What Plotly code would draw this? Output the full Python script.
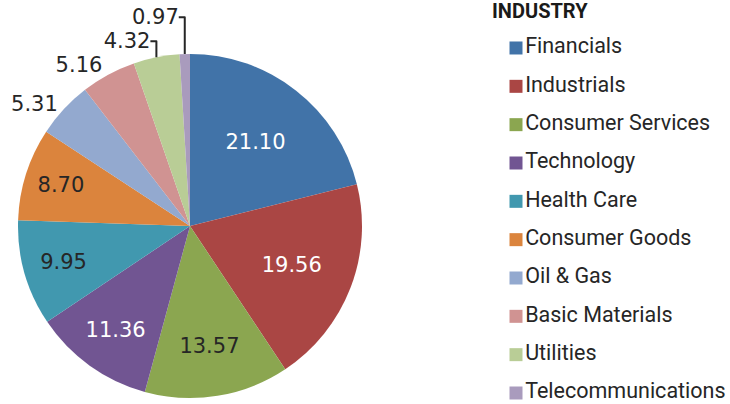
import plotly.graph_objects as go

industries = ["Financials", "Industrials", "Consumer Services", "Technology", "Health Care",
              "Consumer Goods", "Oil & Gas", "Basic Materials", "Utilities", "Telecommunications"]
weights = [21.10, 19.56, 13.57, 11.36, 9.95, 8.70, 5.31, 5.16, 4.32, 0.97]
colors = ["#4173A8", "#AA4644", "#8BA650", "#715592", "#4198AF",
          "#DB843D", "#93A9CF", "#D09392", "#B9CD96", "#A99BBD"]
label_colors = ["white", "white", "#262626", "white", "#262626",
                "#262626", "#262626", "#262626", "#262626", "#262626"]
label_pos = ["inside"] * 6 + ["outside"] * 4
legend_title = "INDUSTRY"

W, H = 730, 404
cx, cy, r = 190, 226, 172

fig = go.Figure()
fig.add_trace(go.Pie(
    labels=industries, values=weights, sort=False, direction="clockwise", rotation=0,
    marker=dict(colors=colors, line=dict(width=0)),
    texttemplate="%{value:.2f}", textposition=label_pos,
    insidetextorientation="horizontal",
    textfont=dict(color=label_colors, size=21, family="DejaVu Sans"),
    outsidetextfont=dict(color="#262626", size=21, family="DejaVu Sans"),
    showlegend=False, hoverinfo="label+value",
    domain=dict(x=[(cx - r) / W, (cx + r) / W], y=[(H - cy - r) / H, (H - cy + r) / H]),
))

# Legend drawn as a categorical scatter (square swatches + names)
fig.add_trace(go.Scatter(
    x=[0] * len(industries), y=industries, mode="markers+text",
    marker=dict(symbol="square", size=13, color=colors),
    text=industries, textposition="middle right",
    textfont=dict(size=21.5, family="Roboto", color="#262626"),
    cliponaxis=False, showlegend=False, hoverinfo="text",
))

fig.add_annotation(
    text="<b>" + legend_title + "</b>", xref="paper", yref="paper", x=490 / W, y=1 + 3 / H,
    xanchor="left", yanchor="top", showarrow=False,
    font=dict(size=20, family="Roboto", color="#1a1a1a"),
)

fig.update_layout(
    width=W, height=H, margin=dict(l=0, r=0, t=0, b=0),
    paper_bgcolor="white", plot_bgcolor="rgba(0,0,0,0)",
    showlegend=False,
    xaxis=dict(visible=False, domain=[505 / W, 1], range=[-0.0514, 1]),
    yaxis=dict(visible=False, type="category", range=[9.287, -1.252]),
)
fig.write_html("out.html", config={"displayModeBar": False},
               post_script="document.body.style.margin='0';document.body.style.overflow='hidden';")
